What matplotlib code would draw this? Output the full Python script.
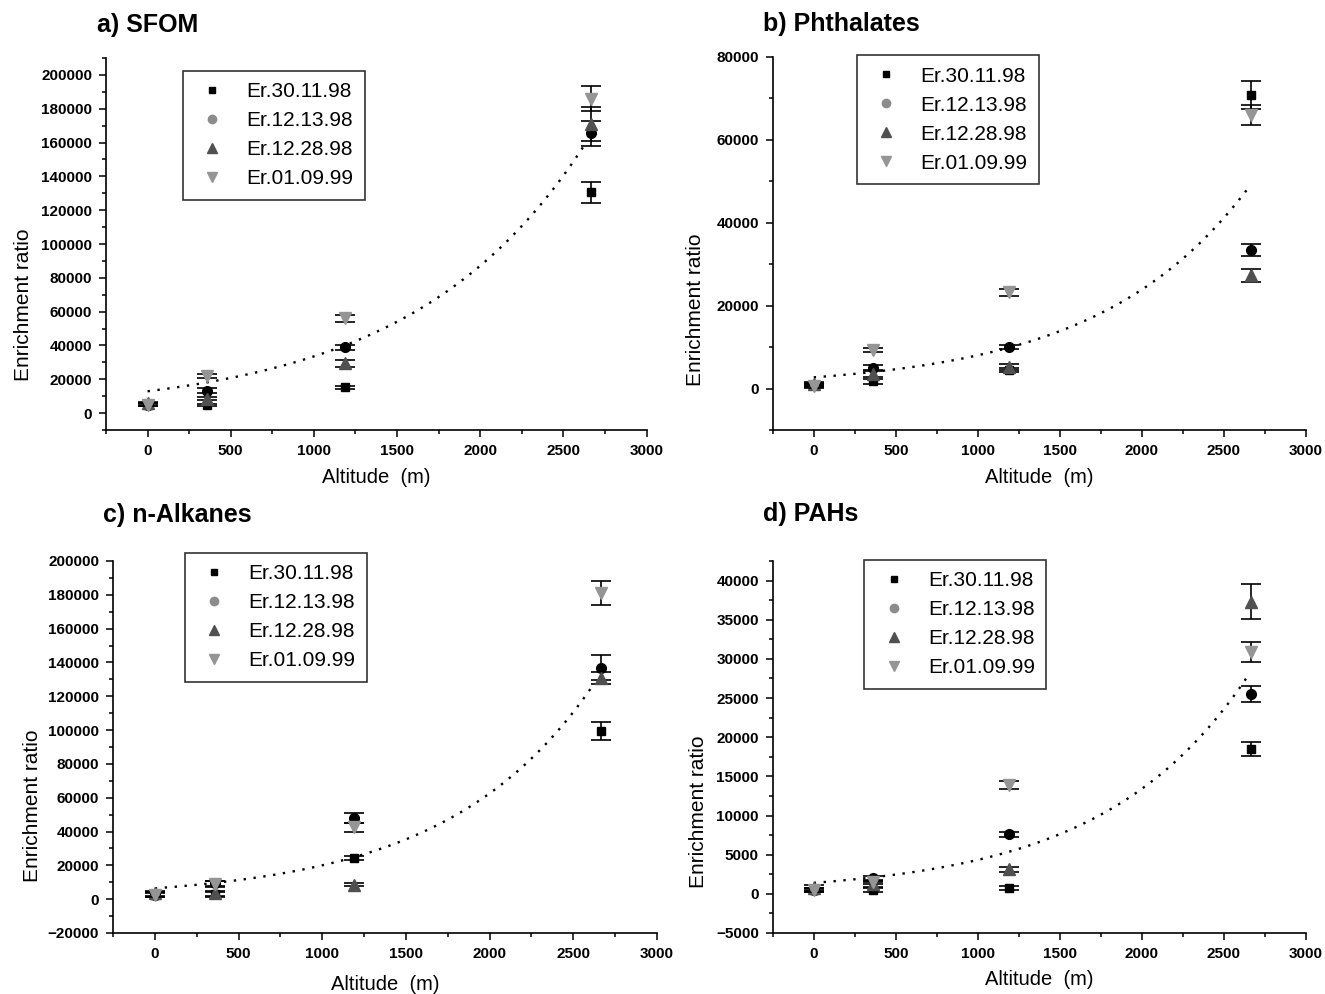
import numpy as np
import matplotlib
matplotlib.use('Agg')
import matplotlib.pyplot as plt
from matplotlib.lines import Line2D
from matplotlib.ticker import MultipleLocator

plt.rcParams['font.family'] = ['Liberation Sans', 'DejaVu Sans']

# altitude of the four sampling sites (m)
alt = [0, 360, 1190, 2665]
labels = ['Er.30.11.98', 'Er.12.13.98', 'Er.12.28.98', 'Er.01.09.99']

# a) SFOM
sfom_sq = [5000, 5000, 15200, 130500]
sfom_sq_err = [800, 600, 1000, 6400]
sfom_ci = [5000, 13300, 39000, 165500]
sfom_ci_err = [800, 1300, 1500, 7500]
sfom_tu = [5800, 8500, 29500, 171000]
sfom_tu_err = [1000, 1000, 2000, 10000]
sfom_td = [5000, 22000, 56000, 186000]
sfom_td_err = [1000, 1000, 2000, 7500]

# b) Phthalates
pht_sq = [800, 1800, 4400, 70800]
pht_sq_err = [400, 600, 500, 3300]
pht_ci = [900, 5000, 10000, 33400]
pht_ci_err = [400, 600, 500, 1400]
pht_tu = [1200, 3500, 5200, 27300]
pht_tu_err = [500, 700, 700, 1600]
pht_td = [600, 9300, 23200, 66000]
pht_td_err = [400, 500, 800, 2500]

# c) n-Alkanes
alk_sq = [2500, 2800, 24400, 99300]
alk_sq_err = [1500, 1500, 1200, 5200]
alk_ci = [2500, 9500, 48000, 137000]
alk_ci_err = [1500, 1500, 3000, 7500]
alk_tu = [3500, 3500, 8600, 130900]
alk_tu_err = [1500, 1500, 1000, 3500]
alk_td = [2500, 9000, 42500, 181000]
alk_td_err = [1000, 1500, 2500, 7000]

# d) PAHs
pah_sq = [500, 500, 720, 18500]
pah_sq_err = [200, 250, 250, 850]
pah_ci = [500, 2000, 7600, 25500]
pah_ci_err = [250, 300, 300, 1000]
pah_tu = [800, 1200, 3150, 37300]
pah_tu_err = [300, 300, 300, 2200]
pah_td = [500, 1500, 13900, 30900]
pah_td_err = [250, 300, 550, 1300]

# exponential trend lines y = a*exp(b*x)
fit_a = [12900, 2700, 6400, 1400]
fit_b = [0.000955, 0.00109, 0.00114, 0.00113]
fit_end = [2620, 2637, 2623, 2635]

W, H = 1325, 994
fig = plt.figure(figsize=(13.25, 9.94), dpi=100)

# pixel boxes: left, right, top, bottom
boxes = [(106, 646.5, 58, 430), (772.7, 1306, 57, 430),
         (113, 657, 561, 933), (772.7, 1306, 561, 933)]
ylims = [(-10000, 210000), (-10000, 80000), (-20000, 200000), (-5000, 42500)]
ymaj = [20000, 20000, 20000, 5000]
ymin = [10000, 10000, 10000, 2500]
titles = ['a) SFOM', 'b) Phthalates', 'c) n-Alkanes', 'd) PAHs']
title_pos = [(97, 25), (763, 24), (103, 515), (763, 514)]
leg_pos = [(0.1425, 0.965), (0.158, 1.005), (0.132, 1.022), (0.172, 1.003)]
ylab_pos = [(-0.135, 0.336), (-0.127, 0.323), (-0.13, 0.343), (-0.122, 0.325)]
xlab_y = [-0.102, -0.102, -0.113, -0.1]

data = [
    (sfom_sq, sfom_sq_err, sfom_ci, sfom_ci_err, sfom_tu, sfom_tu_err, sfom_td, sfom_td_err),
    (pht_sq, pht_sq_err, pht_ci, pht_ci_err, pht_tu, pht_tu_err, pht_td, pht_td_err),
    (alk_sq, alk_sq_err, alk_ci, alk_ci_err, alk_tu, alk_tu_err, alk_td, alk_td_err),
    (pah_sq, pah_sq_err, pah_ci, pah_ci_err, pah_tu, pah_tu_err, pah_td, pah_td_err),
]

styles = [('s', 'black', 6), ('o', 'black', 7), ('^', '#505050', 8), ('v', '#959595', 8)]
leg_colors = ['black', '#8c8c8c', '#505050', '#959595']

for i in range(4):
    l, r, t, b = boxes[i]
    ax = fig.add_axes([l / W, 1 - b / H, (r - l) / W, (b - t) / H])

    xs = np.linspace(0, fit_end[i], 200)
    ax.plot(xs, fit_a[i] * np.exp(fit_b[i] * xs), color='black',
            ls=(0, (1, 3.2)), lw=1.7, zorder=1)

    d = data[i]
    for k in range(4):
        m, c, ms = styles[k]
        ax.errorbar(alt, d[2 * k], yerr=d[2 * k + 1], fmt=m, color=c, ms=ms,
                    ecolor='black', elinewidth=1.2, capsize=7.5, capthick=1.2,
                    zorder=3 + k)

    ax.set_xlim(-250, 3000)
    ax.set_ylim(*ylims[i])
    ax.xaxis.set_major_locator(MultipleLocator(500))
    ax.xaxis.set_minor_locator(MultipleLocator(250))
    ax.yaxis.set_major_locator(MultipleLocator(ymaj[i]))
    ax.yaxis.set_minor_locator(MultipleLocator(ymin[i]))
    ax.ticklabel_format(style='plain', useOffset=False)

    for s in ['top', 'right']:
        ax.spines[s].set_visible(False)
    for s in ['left', 'bottom']:
        ax.spines[s].set_linewidth(1.2)
    ax.tick_params(which='major', direction='out', length=5, width=1.1, labelsize=11)
    ax.tick_params(which='minor', direction='out', length=3, width=1.1)
    ax.tick_params(axis='x', pad=5)
    ax.tick_params(axis='y', pad=5)
    for lab in ax.get_xticklabels() + ax.get_yticklabels():
        lab.set_fontweight('bold')

    ax.set_xlabel('Altitude  (m)', fontsize=14.5)
    ax.set_ylabel('Enrichment ratio', fontsize=15)
    ax.xaxis.set_label_coords(0.5, xlab_y[i])
    ax.yaxis.set_label_coords(*ylab_pos[i])

    handles = [Line2D([], [], ls='none', marker=styles[k][0], color=leg_colors[k],
                      ms=styles[k][2] - 1) for k in range(4)]
    leg = ax.legend(handles, labels, loc='upper left', bbox_to_anchor=leg_pos[i],
                    borderaxespad=0, fontsize=15, frameon=True, fancybox=False,
                    edgecolor='black', borderpad=0.55, handlelength=1.7,
                    handletextpad=0.8, labelspacing=0.48)
    leg.get_frame().set_linewidth(1.2)

    fig.text(title_pos[i][0] / W, 1 - title_pos[i][1] / H, titles[i],
             fontsize=18, fontweight='bold', va='center', ha='left')

fig.savefig('out.png', dpi=100)
